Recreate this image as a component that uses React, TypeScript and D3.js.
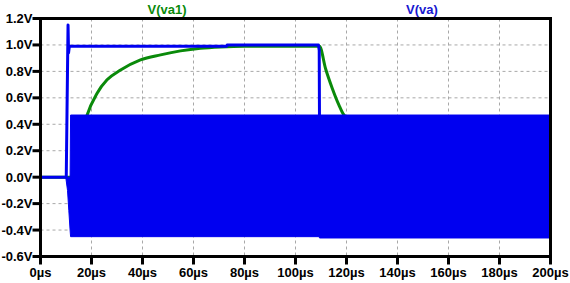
import React from "react";
import * as d3 from "d3";

const W = 570;
const H = 283;

const xTicks = [0, 20, 40, 60, 80, 100, 120, 140, 160, 180, 200];
const xTickLabels = ["0µs", "20µs", "40µs", "60µs", "80µs", "100µs", "120µs", "140µs", "160µs", "180µs", "200µs"];
const yTicks = [1.2, 1.0, 0.8, 0.6, 0.4, 0.2, 0.0, -0.2, -0.4, -0.6];
const yTickLabels = ["1.2V", "1.0V", "0.8V", "0.6V", "0.4V", "0.2V", "0.0V", "-0.2V", "-0.4V", "-0.6V"];

const seriesNames = ["V(va1)", "V(va)"];

// V(va1) (green)
const va1T = [0, 11.8, 14, 16, 18.3, 22.2, 26.1, 31.4, 39.2, 47.1, 54.9, 62.7, 70.6, 80, 109.4, 111.8, 114.4, 117, 119, 125, 200];
const va1V = [0, 0, 0.15, 0.3, 0.47, 0.635, 0.736, 0.81, 0.887, 0.925, 0.955, 0.975, 0.985, 0.99, 0.99, 0.82, 0.673, 0.547, 0.47, 0.4, 0.1];

// V(va) (blue) - slow component
const vaT = [0, 10.1, 10.4, 10.8, 11.0, 11.3, 73, 73.2, 109.0, 109.3, 109.4];
const vaV = [0, 0, 0.5, 1.15, 0.94, 0.99, 0.99, 1.0, 1.0, 0.96, 0.47];

// V(va) (blue) - fast oscillation envelope
const envT = [9.9, 10.6, 11.1, 11.6, 11.8, 109.3, 109.4, 200];
const envHi = [0, 0, 0, 0, 0.47, 0.47, 0.47, 0.47];
const envLo = [0, -0.1, -0.25, -0.4, -0.45, -0.45, -0.46, -0.46];

const GREEN = "#0a8a0a";
const BLUE = "#0000f0";

export default function App() {
  const x = d3.scaleLinear().domain([0, 200]).range([40.5, 550.5]);
  const y = d3.scaleLinear().domain([-0.6, 1.2]).range([256.5, 18.5]);

  const va1Data = va1T.map((t, i) => [t, va1V[i]] as [number, number]);
  const vaData = vaT.map((t, i) => [t, vaV[i]] as [number, number]);
  const envData = envT.map((t, i) => ({ t, hi: envHi[i], lo: envLo[i] }));

  const greenLine = d3
    .line<[number, number]>()
    .x((d) => x(d[0]))
    .y((d) => y(d[1]))
    .curve(d3.curveMonotoneX)(va1Data) as string;

  const blueLine = d3
    .line<[number, number]>()
    .x((d) => x(d[0]))
    .y((d) => y(d[1]))(vaData) as string;

  const band = d3
    .area<{ t: number; hi: number; lo: number }>()
    .x((d) => x(d.t))
    .y0((d) => y(d.lo))
    .y1((d) => y(d.hi))(envData) as string;

  const font = "'Liberation Sans', Arial, sans-serif";

  return (
    <div style={{ position: "absolute", left: 0, top: 0 }}>
      <svg width={W} height={H} style={{ display: "block", background: "#fff" }}>
        {/* grid */}
        {xTicks.map((t) => (
          <line key={"gx" + t} x1={x(t)} x2={x(t)} y1={y(1.2)} y2={y(-0.6)} stroke="#a8a8a8" strokeWidth={1} strokeDasharray="3,3" />
        ))}
        {yTicks.map((v) => (
          <line key={"gy" + v} x1={x(0)} x2={x(200)} y1={y(v)} y2={y(v)} stroke="#a8a8a8" strokeWidth={1} strokeDasharray="3,3" />
        ))}

        {/* green trace */}
        <path d={greenLine} fill="none" stroke={GREEN} strokeWidth={3} />

        {/* blue band (fast oscillation) */}
        <path d={band} fill={BLUE} stroke={BLUE} strokeWidth={1} />
        {/* blue slow trace */}
        <path d={blueLine} fill="none" stroke={BLUE} strokeWidth={3} strokeLinejoin="round" />

        {/* frame */}
        <line x1={x(0)} x2={x(200) + 1.5} y1={y(1.2)} y2={y(1.2)} stroke="#000" strokeWidth={3} />
        <line x1={x(200)} x2={x(200)} y1={y(1.2)} y2={y(-0.6) + 1.5} stroke="#000" strokeWidth={3} />
        <line x1={x(0)} x2={x(0)} y1={y(1.2) - 1.5} y2={y(-0.6) + 1.5} stroke="#000" strokeWidth={3} />
        <line x1={x(0) - 1.5} x2={x(200) + 1.5} y1={y(-0.6)} y2={y(-0.6)} stroke="#000" strokeWidth={3} />

        {/* y ticks */}
        {yTicks.map((v, i) => (
          <g key={"yt" + v}>
            <line x1={x(0) - 8} x2={x(0)} y1={y(v)} y2={y(v)} stroke="#000" strokeWidth={3} />
            <text x={x(0) - 8} y={y(v) + 4.5} textAnchor="end" fontFamily={font} fontWeight="bold" fontSize={13} fill="#000">
              {yTickLabels[i]}
            </text>
          </g>
        ))}

        {/* x ticks */}
        {xTicks.map((t, i) => (
          <g key={"xt" + t}>
            <line x1={x(t)} x2={x(t)} y1={y(-0.6)} y2={y(-0.6) + 8} stroke="#000" strokeWidth={3} />
            <text x={x(t)} y={277} textAnchor="middle" fontFamily={font} fontWeight="bold" fontSize={13} fill="#000">
              {xTickLabels[i]}
            </text>
          </g>
        ))}

        {/* legend */}
        <text x={167} y={14} textAnchor="middle" fontFamily={font} fontWeight="bold" fontSize={13} fill={GREEN}>
          {seriesNames[0]}
        </text>
        <text x={422} y={14} textAnchor="middle" fontFamily={font} fontWeight="bold" fontSize={13} fill="#1818d0">
          {seriesNames[1]}
        </text>
      </svg>
    </div>
  );
}
